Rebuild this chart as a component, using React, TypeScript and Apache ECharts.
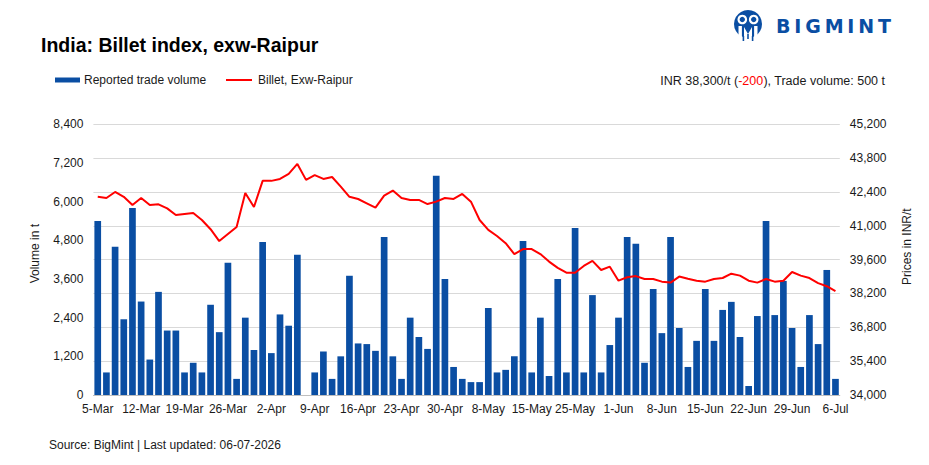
import React, { useEffect, useRef } from "react";
import * as echarts from "echarts";

const FONT = "'Liberation Sans', Arial, sans-serif";

const categories: string[] = [
  "5-Mar", "6-Mar", "9-Mar", "10-Mar", "11-Mar", "12-Mar", "13-Mar", "16-Mar", "17-Mar", "18-Mar",
  "19-Mar", "20-Mar", "23-Mar", "24-Mar", "25-Mar", "26-Mar", "27-Mar", "30-Mar", "31-Mar", "1-Apr",
  "2-Apr", "3-Apr", "6-Apr", "7-Apr", "8-Apr", "9-Apr", "10-Apr", "13-Apr", "14-Apr", "15-Apr",
  "16-Apr", "17-Apr", "20-Apr", "21-Apr", "22-Apr", "23-Apr", "24-Apr", "27-Apr", "28-Apr", "29-Apr",
  "30-Apr", "4-May", "5-May", "6-May", "7-May", "8-May", "11-May", "12-May", "13-May", "14-May",
  "15-May", "18-May", "19-May", "20-May", "22-May", "25-May", "26-May", "27-May", "28-May", "29-May",
  "1-Jun", "2-Jun", "3-Jun", "4-Jun", "5-Jun", "8-Jun", "9-Jun", "10-Jun", "11-Jun", "12-Jun",
  "15-Jun", "16-Jun", "17-Jun", "18-Jun", "19-Jun", "22-Jun", "23-Jun", "24-Jun", "25-Jun", "26-Jun",
  "29-Jun", "30-Jun", "1-Jul", "2-Jul", "3-Jul", "6-Jul",
];

const volumes: (number | null)[] = [
  5400, 700, 4600, 2350, 5800, 2900, 1100, 3200, 2000, 2000,
  700, 1000, 700, 2800, 1950, 4100, 500, 2400, 1400, 4750,
  1300, 2500, 2150, 4350, null, 700, 1350, 500, 1200, 3700,
  1600, 1580, 1370, 4900, 1200, 500, 2400, 1800, 1430, 6800,
  3600, 870, 500, 400, 400, 2700, 700, 780, 1200, 4780,
  700, 2400, 590, 3600, 700, 5180, 700, 3100, 700, 1550,
  2400, 4900, 4690, 1000, 3290, 1920, 4900, 2080, 870, 1680,
  3290, 1680, 2640, 2890, 1800, 280, 2450, 5400, 2480, 3540,
  2080, 870, 2480, 1580, 3880, 500,
];

const prices: number[] = [
  42200, 42150, 42400, 42200, 41860, 42150, 41860, 41890, 41720, 41450,
  41490, 41530, 41240, 40860, 40370, 40660, 40950, 42360, 41780, 42860,
  42860, 42940, 43150, 43560, 42900, 43100, 42940, 43020, 42620, 42200,
  42110, 41930, 41750, 42250, 42460, 42150, 42070, 42070, 41900, 42000,
  42150, 42110, 42320, 42000, 41240, 40830, 40580, 40280, 39830, 40040,
  40040, 39830, 39520, 39260, 39060, 39060, 39340, 39550, 39170, 39310,
  38730, 38870, 38920, 38800, 38800, 38690, 38650, 38900, 38810, 38730,
  38690, 38800, 38840, 39020, 38940, 38730, 38650, 38800, 38690, 38730,
  39090, 38940, 38840, 38630, 38500, 38300,
];

const volumeAxis = [0, 8400, 1200];
const priceAxis = [34000, 45200, 1400];

const BAR_NAME = "Reported trade volume";
const LINE_NAME = "Billet, Exw-Raipur";
const TITLE = "India: Billet index, exw-Raipur";
const SOURCE = "Source: BigMint | Last updated: 06-07-2026";
const LOGO_LETTERS = ["B", "I", "G", "M", "I", "N", "T"];
const LOGO_X = [783.2, 797.9, 813, 834.1, 850.9, 866.2, 884.5];

const BLUE = "#0a4ea3";
const RED = "#ff0000";
const TEXT = "#1a1a1a";

const fmt = (v: number) => v.toLocaleString("en-US");

export default function App() {
  const ref = useRef<HTMLDivElement>(null);
  useEffect(() => {
    if (!ref.current) return;
    const chart = echarts.init(ref.current, undefined, { renderer: "svg" });
    const n = prices.length;
    const last = prices[n - 1];
    const change = last - prices[n - 2];
    const lastVol = volumes[volumes.length - 1] ?? 0;
    const changeStr = (change > 0 ? "+" : change < 0 ? "-" : "") + fmt(Math.abs(change));

    const logo: any[] = [
      { type: "circle", shape: { cx: 748, cy: 24, r: 14 }, style: { fill: BLUE } },
      { type: "circle", shape: { cx: 742.3, cy: 19.5, r: 4.8 }, style: { fill: "#fff" } },
      { type: "circle", shape: { cx: 753.7, cy: 19.5, r: 4.8 }, style: { fill: "#fff" } },
      { type: "circle", shape: { cx: 742.3, cy: 19.5, r: 2.7 }, style: { fill: BLUE } },
      { type: "circle", shape: { cx: 753.7, cy: 19.5, r: 2.7 }, style: { fill: BLUE } },
      { type: "rect", shape: { x: 738.5, y: 26, width: 3.4, height: 12 }, style: { fill: "#fff" } },
      { type: "rect", shape: { x: 754.1, y: 26, width: 3.4, height: 12 }, style: { fill: "#fff" } },
      { type: "polygon", shape: { points: [[744, 27], [748, 34], [752, 27], [752, 38.5], [744, 38.5]] }, style: { fill: "#fff" } },
      { type: "rect", shape: { x: 742.6, y: 36, width: 1.6, height: 5 }, style: { fill: BLUE } },
      { type: "rect", shape: { x: 751.8, y: 36, width: 1.6, height: 5 }, style: { fill: BLUE } },
      { type: "rect", shape: { x: 747.2, y: 34, width: 1.6, height: 5 }, style: { fill: BLUE } },
      ...LOGO_LETTERS.map((ch, i) => ({
        type: "text",
        x: LOGO_X[i],
        y: 25.5,
        style: {
          text: ch,
          font: `bold 19px 'DejaVu Sans', ${FONT}`,
          fill: BLUE,
          align: "center",
          verticalAlign: "middle",
        },
      })),
    ];

    const legend: any[] = [
      { type: "rect", shape: { x: 55, y: 77.5, width: 25, height: 5 }, style: { fill: BLUE } },
      {
        type: "text",
        x: 84,
        y: 80,
        style: { text: BAR_NAME, font: `12px ${FONT}`, fill: TEXT, verticalAlign: "middle" },
      },
      {
        type: "line",
        shape: { x1: 226, y1: 80, x2: 252, y2: 80 },
        style: { stroke: RED, lineWidth: 2 },
      },
      {
        type: "text",
        x: 258,
        y: 80,
        style: { text: LINE_NAME, font: `12px ${FONT}`, fill: TEXT, verticalAlign: "middle" },
      },
    ];

    chart.setOption({
      animation: false,
      backgroundColor: "#ffffff",
      textStyle: { fontFamily: FONT },
      grid: { left: 93.4, right: 89.2, top: 124.3, bottom: 70, containLabel: false },
      xAxis: {
        type: "category",
        data: categories,
        axisTick: { show: false },
        axisLine: { lineStyle: { color: "#bfbfbf", width: 1 } },
        axisLabel: { interval: 4, color: TEXT, fontSize: 12, margin: 8, fontFamily: FONT },
      },
      yAxis: [
        {
          type: "value",
          min: volumeAxis[0],
          max: volumeAxis[1],
          interval: volumeAxis[2],
          name: "Volume in t",
          nameLocation: "middle",
          nameGap: 52,
          nameRotate: 90,
          nameTextStyle: { fontSize: 12, color: TEXT, fontFamily: FONT, padding: [0, 0, 0, 12] },
          axisLabel: { formatter: (v: number) => fmt(v), color: TEXT, fontSize: 12, margin: 10, fontFamily: FONT },
          axisLine: { show: false },
          axisTick: { show: false },
          splitLine: { show: false },
        },
        {
          type: "value",
          position: "right",
          min: priceAxis[0],
          max: priceAxis[1],
          interval: priceAxis[2],
          name: "Prices in INR/t",
          nameLocation: "middle",
          nameGap: 61,
          nameRotate: 90,
          nameTextStyle: { fontSize: 12, color: TEXT, fontFamily: FONT, padding: [0, 0, 0, 26] },
          axisLabel: { formatter: (v: number) => fmt(v), color: TEXT, fontSize: 12, margin: 10, fontFamily: FONT },
          axisLine: { show: false },
          axisTick: { show: false },
          splitLine: { lineStyle: { color: "#d9d9d9", width: 1 } },
        },
      ],
      series: [
        {
          name: BAR_NAME,
          type: "bar",
          data: volumes,
          barCategoryGap: "23%",
          itemStyle: { color: BLUE },
        },
        {
          name: LINE_NAME,
          type: "line",
          yAxisIndex: 1,
          data: prices,
          symbol: "none",
          lineStyle: { color: RED, width: 2 },
          itemStyle: { color: RED },
        },
      ],
      graphic: [
        {
          type: "text",
          x: 41,
          y: 45,
          style: { text: TITLE, font: `bold 19.5px ${FONT}`, fill: "#000", verticalAlign: "middle" },
        },
        {
          type: "text",
          x: 885,
          y: 81,
          style: {
            text: `{a|INR ${fmt(last)}/t (}{r|${changeStr}}{a|), Trade volume: ${fmt(lastVol)} t}`,
            align: "right",
            verticalAlign: "middle",
            rich: {
              a: { fill: TEXT, fontSize: 12.5, fontFamily: FONT },
              r: { fill: RED, fontSize: 12.5, fontFamily: FONT },
            },
          },
        },
        {
          type: "text",
          x: 49,
          y: 445,
          style: { text: SOURCE, font: `12px ${FONT}`, fill: TEXT, verticalAlign: "middle" },
        },
        ...legend,
        ...logo,
      ],
    });
    return () => chart.dispose();
  }, []);
  return (
    <div
      ref={ref}
      style={{ position: "fixed", left: 0, top: 0, width: 929, height: 465, background: "#fff" }}
    />
  );
}
